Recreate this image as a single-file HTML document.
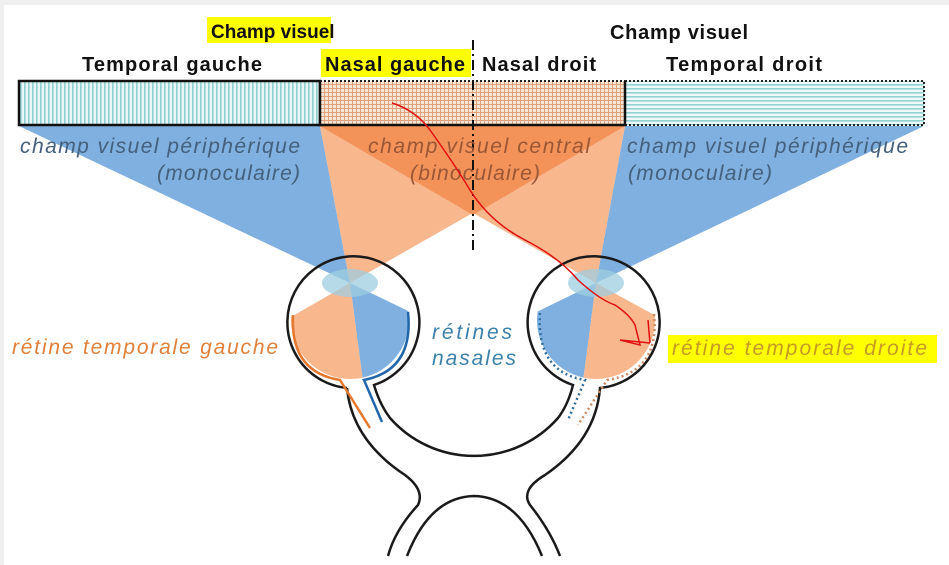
<!DOCTYPE html>
<html><head><meta charset="utf-8"><style>
html,body{margin:0;padding:0;background:#f0f0f0;}
svg{display:block}
</style></head><body>
<svg width="949" height="565" viewBox="0 0 949 565" xmlns="http://www.w3.org/2000/svg">
<defs>
<pattern id="vs" width="4" height="4" patternUnits="userSpaceOnUse"><rect width="4" height="4" fill="#e8f6f6"/><rect width="1.6" height="4" fill="#8fcfd0"/></pattern>
<pattern id="hs" width="4" height="4" patternUnits="userSpaceOnUse"><rect width="4" height="4" fill="#eef8f8"/><rect width="4" height="1.6" fill="#93d0d2"/></pattern>
<pattern id="gr" width="4" height="4" patternUnits="userSpaceOnUse"><rect width="4" height="4" fill="#f6e6d4"/><rect width="1" height="4" fill="#e0a27e"/><rect width="4" height="1" fill="#e0a27e"/></pattern>
<clipPath id="cl"><circle cx="350" cy="320" r="59"/></clipPath>
<clipPath id="cr"><circle cx="596" cy="320" r="59"/></clipPath>
</defs>
<rect x="4" y="5" width="945" height="560" fill="#fff"/>
<polygon points="19,126 320,126 350,283" fill="#7fb0e0"/>
<polygon points="625,126 924,126 596,283" fill="#7fb0e0"/>
<polygon points="320,126 625,126 350,283" fill="#f9b78e"/>
<polygon points="320,126 625,126 596,283" fill="#f9b78e"/>
<polygon points="320,126 625,126 473,215" fill="#f3935a"/>
<g clip-path="url(#cl)">
<polygon points="350,283 680,442 372,450" fill="#7fb0e0"/>
<polygon points="350,283 372,450 60,450" fill="#f9b78e"/>
</g>
<g clip-path="url(#cr)">
<polygon points="596,283 270,442 574,450" fill="#7fb0e0"/>
<polygon points="596,283 574,450 900,450" fill="#f9b78e"/>
</g>
<ellipse cx="350" cy="283" rx="28" ry="14" fill="#9fcde0" opacity="0.75"/>
<ellipse cx="596" cy="283" rx="28" ry="14" fill="#9fcde0" opacity="0.75"/>
<rect x="19" y="81" width="301" height="44" fill="url(#vs)" stroke="#111" stroke-width="2.5"/>
<rect x="625" y="81" width="299" height="44" fill="url(#hs)" stroke="#222" stroke-width="2" stroke-dasharray="2,2"/>
<rect x="320" y="81" width="305" height="44" fill="url(#gr)"/>
<line x1="320" y1="81" x2="625" y2="81" stroke="#222" stroke-width="2" stroke-dasharray="2,2"/>
<path d="M320 81 V125 H625 V81" fill="none" stroke="#111" stroke-width="2.5"/>
<line x1="473" y1="40" x2="473" y2="250" stroke="#111" stroke-width="2" stroke-dasharray="10,4,2,4"/>
<g fill="none" stroke="#1a1a1a" stroke-width="2.5">
<path d="M347 388 A66 66 0 1 1 374 385 Q380 405 390 418 A112 112 0 0 0 558 418 Q568 405 573 385 A66 66 0 1 1 600 388 Q596 440 545 475 Q520 490 530 505 Q550 530 560 556"/>
<path d="M347 388 Q352 440 405 475 Q425 490 418 505 Q395 530 388 556"/>
<path d="M407 556 Q430 497 474 496 Q518 497 542 556"/>
</g>
<path d="M293 315 Q290 372 340 380 L370 428" fill="none" stroke="#e4782e" stroke-width="2.5"/>
<path d="M408 312 Q414 370 364 380 L382 422" fill="none" stroke="#2266aa" stroke-width="2.5"/>
<path d="M540 313 Q536 372 585 380 L568 420" fill="none" stroke="#2f6e9e" stroke-width="2.5" stroke-dasharray="2,3"/>
<path d="M654 314 Q660 372 607 380 L578 425" fill="none" stroke="#c88a60" stroke-width="2.5" stroke-dasharray="2,3"/>
<g font-family="'Liberation Sans',sans-serif" font-weight="bold" fill="#111">
<rect x="207" y="17" width="124" height="26" fill="#ffff00"/>
<text x="211" y="38" font-size="19">Champ visuel</text>
<text x="610" y="39" font-size="20" textLength="138">Champ visuel</text>
<text x="82" y="71" font-size="20" textLength="180">Temporal gauche</text>
<rect x="321" y="49" width="150" height="28" fill="#ffff00"/>
<text x="325" y="71" font-size="20" textLength="140">Nasal gauche</text>
<text x="482" y="71" font-size="20" textLength="114">Nasal droit</text>
<text x="666" y="71" font-size="20" textLength="156">Temporal droit</text>
</g>
<g font-family="'Liberation Sans',sans-serif" font-style="italic" font-size="21" fill="#44607c">
<text x="20" y="153" textLength="280">champ visuel périphérique</text>
<text x="157" y="180" textLength="143">(monoculaire)</text>
<text x="627" y="153" textLength="281">champ visuel périphérique</text>
<text x="628" y="180" textLength="144">(monoculaire)</text>
<text x="368" y="153" textLength="222" fill="#9b5634">champ visuel central</text>
<text x="410" y="180" textLength="130" fill="#9b5634">(binoculaire)</text>
<text x="12" y="354" textLength="266" fill="#e0803a">rétine temporale gauche</text>
<text x="432" y="339" textLength="80" fill="#3a82aa">rétines</text>
<text x="432" y="365" textLength="84" fill="#3a82aa">nasales</text>
<rect x="668" y="335" width="269" height="28" fill="#ffff00"/>
<text x="672" y="355" textLength="255" fill="#c79a20">rétine temporale droite</text>
</g>
<path d="M392 103 Q415 110 430 130 Q455 165 470 190 Q490 222 525 240 Q560 258 578 280 Q600 300 615 305 Q630 315 635 325 L640 345 L620 340 L650 343" fill="none" stroke="#e01010" stroke-width="1.5"/>
<path d="M650 343 L648 320" fill="none" stroke="#e01010" stroke-width="1.5"/>
</svg>
</body></html>
